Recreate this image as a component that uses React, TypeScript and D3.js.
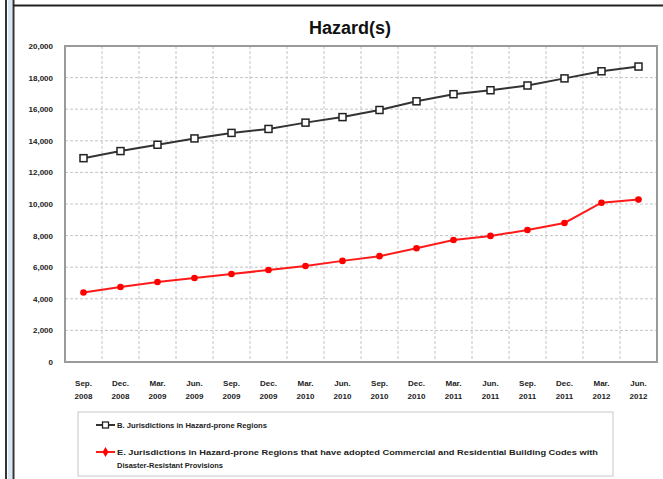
import * as d3 from "d3";
import { useEffect, useRef } from "react";

const categories = [
  "Sep.|2008", "Dec.|2008", "Mar.|2009", "Jun.|2009",
  "Sep.|2009", "Dec.|2009", "Mar.|2010", "Jun.|2010",
  "Sep.|2010", "Dec.|2010", "Mar.|2011", "Jun.|2011",
  "Sep.|2011", "Dec.|2011", "Mar.|2012", "Jun.|2012",
];

const hazardProne = [
  12900, 13350, 13750, 14150, 14500, 14750, 15150, 15500,
  15950, 16500, 16950, 17200, 17500, 17950, 18400, 18700,
];

const adoptedCodes = [
  4400, 4750, 5060, 5320, 5570, 5820, 6080, 6400,
  6700, 7200, 7720, 7980, 8350, 8800, 10080, 10280,
];

const yTicks = [0, 2000, 4000, 6000, 8000, 10000, 12000, 14000, 16000, 18000, 20000];

const legendB = "B. Jurisdictions in Hazard-prone Regions";
const legendE1 =
  "E.  Jurisdictions in Hazard-prone Regions that have adopted Commercial and Residential Building Codes with";
const legendE2 = "Disaster-Resistant Provisions";

const W = 663;
const H = 479;
const font = "'Liberation Sans', Arial, sans-serif";

const App = () => {
  const svgRef = useRef<SVGSVGElement>(null);

  useEffect(() => {
    const svg = d3.select(svgRef.current);
    svg.selectAll("*").remove();

    // window frame
    svg.append("rect").attr("x", 8).attr("y", 0).attr("width", 4).attr("height", H).attr("fill", "#d6e6f4");
    svg.append("line").attr("x1", 6).attr("x2", 6).attr("y1", 0).attr("y2", H).attr("stroke", "#333").attr("stroke-width", 2);
    svg.append("line").attr("x1", 13.5).attr("x2", 13.5).attr("y1", 0).attr("y2", H).attr("stroke", "#333").attr("stroke-width", 2);
    svg.append("line").attr("x1", 13).attr("x2", W).attr("y1", 5.5).attr("y2", 5.5).attr("stroke", "#222").attr("stroke-width", 2);

    const left = 65;
    const right = 657;
    const top = 46;
    const bottom = 362;

    const x = d3.scaleBand().domain(categories).range([left, right]);
    const y = d3.scaleLinear().domain([0, 20000]).range([bottom, top]);

    svg
      .append("text")
      .attr("x", 350)
      .attr("y", 34)
      .attr("text-anchor", "middle")
      .attr("font-family", font)
      .attr("font-weight", "bold")
      .attr("font-size", 18)
      .attr("fill", "#111")
      .text("Hazard(s)");

    const grid = svg.append("g");
    grid
      .selectAll("line.h")
      .data(yTicks.slice(1, -1))
      .enter()
      .append("line")
      .attr("x1", left)
      .attr("x2", right)
      .attr("y1", (d) => y(d))
      .attr("y2", (d) => y(d))
      .attr("stroke", "#c4c4c4")
      .attr("stroke-dasharray", "3,2");
    grid
      .selectAll("line.v")
      .data(categories.slice(1))
      .enter()
      .append("line")
      .attr("x1", (d) => x(d)!)
      .attr("x2", (d) => x(d)!)
      .attr("y1", top)
      .attr("y2", bottom)
      .attr("stroke", "#c4c4c4")
      .attr("stroke-dasharray", "3,2");

    svg
      .append("rect")
      .attr("x", left)
      .attr("y", top)
      .attr("width", right - left)
      .attr("height", bottom - top)
      .attr("fill", "none")
      .attr("stroke", "#9a9a9a")
      .attr("stroke-width", 2);

    const yAxis = svg
      .append("g")
      .attr("transform", `translate(${left - 9},0)`)
      .call(d3.axisLeft(y).tickValues(yTicks).tickSize(0).tickFormat(d3.format(",")));
    yAxis.select(".domain").remove();
    yAxis
      .selectAll("text")
      .attr("font-family", font)
      .attr("font-weight", "bold")
      .attr("font-size", 8)
      .attr("fill", "#222");

    const xAxis = svg
      .append("g")
      .attr("transform", `translate(0,${bottom})`)
      .call(d3.axisBottom(x).tickSize(0).tickFormat(() => ""));
    xAxis.select(".domain").remove();
    xAxis
      .selectAll(".tick text")
      .attr("dy", null)
      .attr("y", null)
      .attr("font-family", font)
      .attr("font-weight", "bold")
      .attr("font-size", 8)
      .attr("fill", "#222")
      .each(function (d) {
        const parts = (d as string).split("|");
        const t = d3.select(this);
        t.append("tspan").attr("x", 0).attr("y", 24).text(parts[0]);
        t.append("tspan").attr("x", 0).attr("y", 37).text(parts[1]);
      });

    const cx = (i: number) => x(categories[i])! + x.bandwidth() / 2;
    const line = d3
      .line<number>()
      .x((_, i) => cx(i))
      .y((d) => y(d));

    svg
      .append("path")
      .datum(hazardProne)
      .attr("d", line)
      .attr("fill", "none")
      .attr("stroke", "#333")
      .attr("stroke-width", 2);
    svg
      .selectAll("rect.b")
      .data(hazardProne)
      .enter()
      .append("rect")
      .attr("x", (_, i) => cx(i) - 3.5)
      .attr("y", (d) => y(d) - 3.5)
      .attr("width", 7)
      .attr("height", 7)
      .attr("fill", "#fff")
      .attr("stroke", "#222")
      .attr("stroke-width", 1.5);

    svg
      .append("path")
      .datum(adoptedCodes)
      .attr("d", line)
      .attr("fill", "none")
      .attr("stroke", "#ff1a1a")
      .attr("stroke-width", 2);
    svg
      .selectAll("circle.e")
      .data(adoptedCodes)
      .enter()
      .append("circle")
      .attr("cx", (_, i) => cx(i))
      .attr("cy", (d) => y(d))
      .attr("r", 3.3)
      .attr("fill", "#ff0000");

    // legend
    const lg = svg.append("g");
    lg.append("rect")
      .attr("x", 78)
      .attr("y", 412)
      .attr("width", 535)
      .attr("height", 64)
      .attr("fill", "#fff")
      .attr("stroke", "#c8c8c8")
      .attr("stroke-width", 1);
    lg.append("line").attr("x1", 96).attr("x2", 115).attr("y1", 425).attr("y2", 425).attr("stroke", "#333").attr("stroke-width", 2);
    lg.append("rect").attr("x", 102.5).attr("y", 422).attr("width", 6).attr("height", 6).attr("fill", "#fff").attr("stroke", "#222").attr("stroke-width", 1.3);
    lg.append("line").attr("x1", 96).attr("x2", 115).attr("y1", 452).attr("y2", 452).attr("stroke", "#ff1a1a").attr("stroke-width", 2);
    lg.append("path")
      .attr("d", d3.symbol(d3.symbolDiamond, 30)())
      .attr("transform", "translate(105.5,452)")
      .attr("fill", "#ff0000");

    const txt = (s: string, ty: number, len?: number) => {
      const t = lg
        .append("text")
        .attr("x", 117)
        .attr("y", ty)
        .attr("font-family", font)
        .attr("font-weight", "bold")
        .attr("font-size", 7.5)
        .attr("fill", "#222")
        .text(s);
      if (len) t.attr("textLength", len).attr("lengthAdjust", "spacingAndGlyphs");
    };
    txt(legendB, 427.5, 150);
    txt(legendE1, 454.5, 481);
    txt(legendE2, 467.5, 106);
  }, []);

  return (
    <svg
      ref={svgRef}
      width={W}
      height={H}
      style={{ position: "absolute", left: 0, top: 0, background: "#fff" }}
    />
  );
};

export default App;
